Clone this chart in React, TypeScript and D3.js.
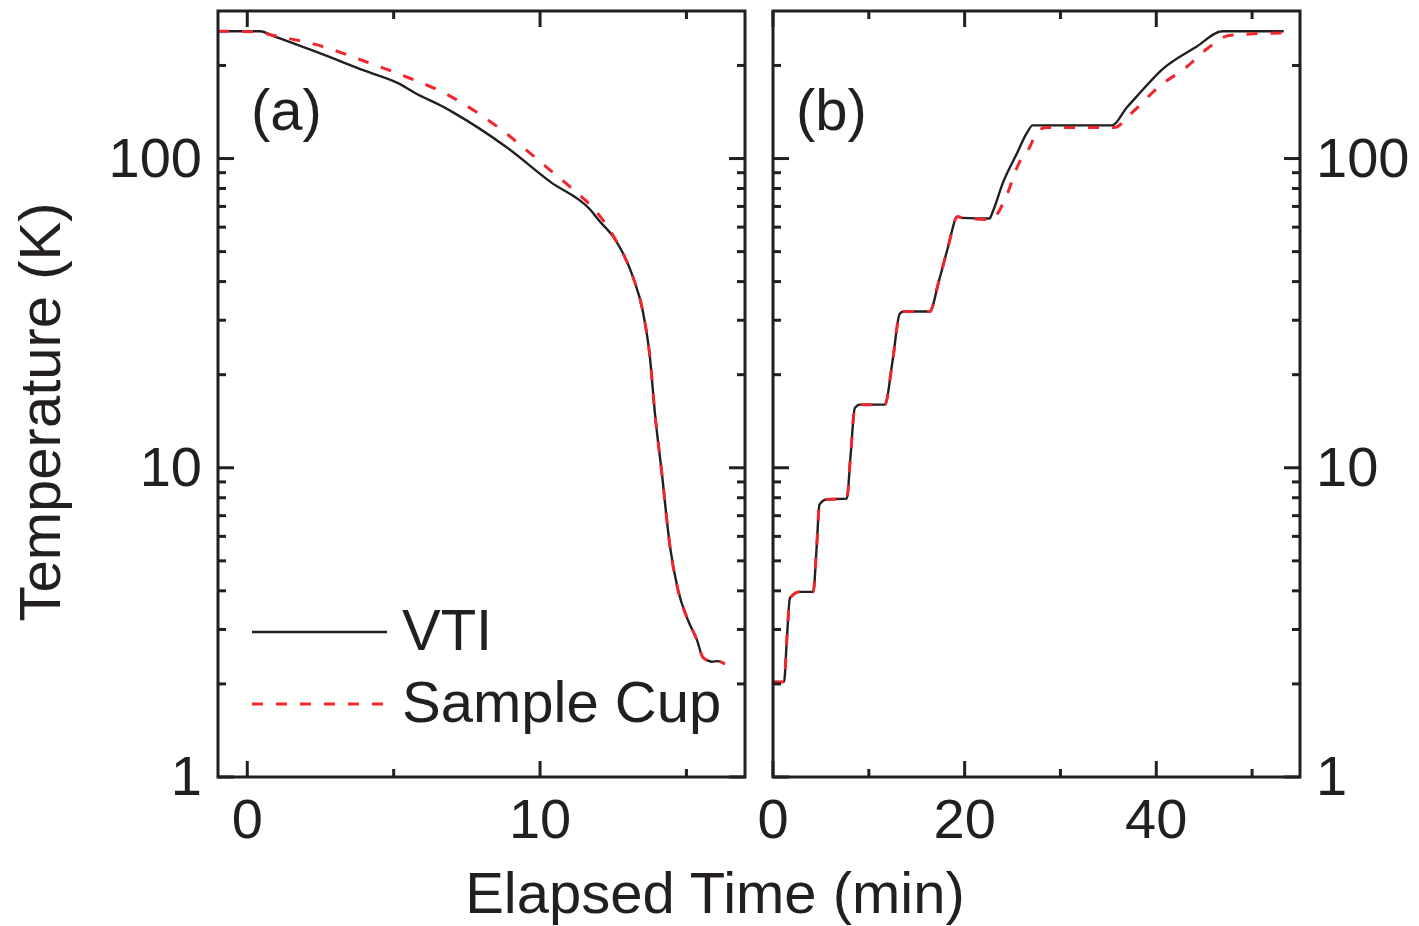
import React from 'react';
import * as d3 from 'd3';

// ---------- Data ----------
// Panel (a): cool-down
const timeA_VTI = [-1, 0.44, 0.9, 2.32, 4.03, 5.22, 5.73, 6.69, 7.03, 8.87, 10.34, 11.71, 12.05, 12.49, 12.85, 13.17, 13.52, 13.75, 13.92, 14.16, 14.44, 14.71, 15.05, 15.36, 15.56, 15.87, 16.07, 16.31];
const tempA_VTI = [258, 258, 249, 222, 192, 174, 163, 147, 141, 108.5, 84.2, 68.4, 62.5, 56, 49, 41.5, 31.7, 22.9, 15.1, 9.6, 5.55, 4.03, 3.22, 2.77, 2.44, 2.36, 2.37, 2.32];

const timeA_Cup = [-1, 0.3, 0.9, 2.32, 4.03, 5.22, 6.83, 8.53, 10.24, 11.13, 11.95, 12.49, 12.85, 13.17, 13.52, 13.75, 13.92, 14.16, 14.44, 14.71, 15.05, 15.36, 15.56, 15.87, 16.07, 16.31];
const tempA_Cup = [258, 257, 250, 234, 206, 187, 161, 127, 93.5, 79.4, 66.9, 56.5, 49, 41.5, 31.7, 22.9, 15.1, 9.6, 5.55, 4.03, 3.22, 2.77, 2.44, 2.36, 2.37, 2.32];

// Panel (b): step-wise warm-up
const timeB_VTI = [0, 1.15, 1.45, 1.77, 2.8, 4.2, 4.55, 4.85, 5.6, 7.7, 8.1, 8.54, 9.06, 11.67, 12.5, 13.23, 13.6, 16.35, 17.3, 18.2, 19.27, 19.7, 22.6, 22.9, 24.0, 25.4, 26.5, 27.1, 27.6, 35.4, 36.9, 37.9, 40.6, 44.2, 46.9, 53.3];
const tempB_VTI = [2.03, 2.03, 2.8, 3.79, 3.97, 3.97, 5.5, 7.6, 7.9, 7.95, 11, 15.6, 16.0, 16.0, 22.4, 31.5, 32, 32, 40, 50.8, 64.9, 64.3, 64, 66.9, 83.6, 103, 121, 128, 128, 128, 146, 158, 194, 230, 258, 258];

const timeB_Cup = [0, 1.15, 1.45, 1.77, 2.8, 4.2, 4.55, 4.85, 5.6, 7.7, 8.1, 8.54, 9.06, 11.67, 12.5, 13.23, 13.6, 16.35, 17.3, 18.2, 19.27, 19.7, 22.6, 23.2, 24.2, 25.7, 26.8, 27.5, 28.5, 35.6, 37.5, 40.3, 43.1, 45.5, 47.6, 53.3];
const tempB_Cup = [2.03, 2.03, 2.8, 3.79, 3.97, 3.97, 5.5, 7.6, 7.9, 7.95, 11, 15.6, 16.0, 16.0, 22.4, 31.5, 32, 32, 40, 50.8, 64.9, 64.3, 63.5, 65, 73.7, 97, 109, 121, 126, 126, 141, 171, 197, 229, 250, 255];

// Axes
const yDomain = [1, 300];
const yMajorTicks = [1, 10, 100];
const yMinorTicks = [2, 3, 4, 5, 6, 7, 8, 9, 20, 30, 40, 50, 60, 70, 80, 90, 200];
const yTickLabels = ['1', '10', '100'];

const xDomainA = [-1, 17];
const xTicksA = [0, 5, 10, 15];
const xMajorA = [0, 10];

const xDomainB = [0, 55];
const xTicksB = [0, 10, 20, 30, 40, 50];
const xMajorB = [0, 20, 40];

const seriesNames = ['VTI', 'Sample Cup'];
const panelLabels = ['(a)', '(b)'];
const xTitle = 'Elapsed Time (min)';
const yTitle = 'Temperature (K)';

// ---------- Styles ----------
const FONT = '"Liberation Sans", Arial, Helvetica, sans-serif';
const RED = '#f0262c';
const BLACK = '#231f20';
const TOP = 11, BOTTOM = 777;
const MAJ = 16, MIN = 8;
const BLACK_W = 2.4;
const RED_W = 3;
const DASH = '11,13';

function Panel({ xScale, yScale, ticks, majors, timesV, tempsV, timesC, tempsC, id, curve }) {
  const [x0, x1] = xScale.range();
  const line = d3.line().x(d => xScale(d[0])).y(d => yScale(d[1])).curve(curve);
  const dV = line(timesV.map((t, i) => [t, tempsV[i]]));
  const dC = line(timesC.map((t, i) => [t, tempsC[i]]));
  return (
    <g>
      <defs>
        <clipPath id={id}>
          <rect x={x0} y={TOP} width={x1 - x0} height={BOTTOM - TOP} />
        </clipPath>
      </defs>
      <g clipPath={`url(#${id})`}>
        <path d={dV} fill="none" stroke={BLACK} strokeWidth={BLACK_W} strokeLinejoin="round" />
        <path d={dC} fill="none" stroke={RED} strokeWidth={RED_W} strokeDasharray={DASH} />
      </g>
      {ticks.map(t => {
        const L = majors.includes(t) ? MAJ : MIN;
        const xx = xScale(t);
        return (
          <g key={'xt' + t}>
            <line x1={xx} x2={xx} y1={BOTTOM} y2={BOTTOM - L} stroke={BLACK} strokeWidth={3} />
            <line x1={xx} x2={xx} y1={TOP} y2={TOP + L} stroke={BLACK} strokeWidth={3} />
          </g>
        );
      })}
      {[...yMajorTicks.map(v => [v, MAJ]), ...yMinorTicks.map(v => [v, MIN])].map(([v, L]) => {
        const yy = yScale(v);
        return (
          <g key={'yt' + v}>
            <line x1={x0} x2={x0 + L} y1={yy} y2={yy} stroke={BLACK} strokeWidth={3} />
            <line x1={x1} x2={x1 - L} y1={yy} y2={yy} stroke={BLACK} strokeWidth={3} />
          </g>
        );
      })}
      <rect x={x0} y={TOP} width={x1 - x0} height={BOTTOM - TOP} fill="none" stroke={BLACK} strokeWidth={3} />
      {majors.map(t => (
        <text key={'xl' + t} x={xScale(t)} y={838} textAnchor="middle" fontSize={56} fontFamily={FONT} fill={BLACK}>{String(t)}</text>
      ))}
    </g>
  );
}

export default function App() {
  const y = d3.scaleLog().domain(yDomain).range([BOTTOM, TOP]);
  const xA = d3.scaleLinear().domain(xDomainA).range([218, 745]);
  const xB = d3.scaleLinear().domain(xDomainB).range([773, 1300]);

  return (
    <svg width={1419} height={926} style={{ position: 'absolute', left: 0, top: 0, background: '#fff' }}>
      <rect x={0} y={0} width={1419} height={926} fill="#fff" />
      <Panel id="clipA" xScale={xA} yScale={y} ticks={xTicksA} majors={xMajorA} curve={d3.curveMonotoneX}
        timesV={timeA_VTI} tempsV={tempA_VTI} timesC={timeA_Cup} tempsC={tempA_Cup} />
      <Panel id="clipB" xScale={xB} yScale={y} ticks={xTicksB} majors={xMajorB} curve={d3.curveMonotoneX}
        timesV={timeB_VTI} tempsV={tempB_VTI} timesC={timeB_Cup} tempsC={tempB_Cup} />

      {yMajorTicks.map((v, i) => (
        <text key={'yla' + v} x={202} y={y(v) + 18} textAnchor="end" fontSize={56} fontFamily={FONT} fill={BLACK}>{yTickLabels[i]}</text>
      ))}
      {yMajorTicks.map((v, i) => (
        <text key={'ylb' + v} x={1316} y={y(v) + 18} textAnchor="start" fontSize={56} fontFamily={FONT} fill={BLACK}>{yTickLabels[i]}</text>
      ))}

      <text x={251} y={130} fontSize={58} fontFamily={FONT} fill={BLACK}>{panelLabels[0]}</text>
      <text x={796} y={130} fontSize={58} fontFamily={FONT} fill={BLACK}>{panelLabels[1]}</text>

      <line x1={252} x2={387} y1={632} y2={632} stroke={BLACK} strokeWidth={BLACK_W} />
      <text x={402} y={650} fontSize={58} fontFamily={FONT} fill={BLACK}>{seriesNames[0]}</text>
      <line x1={252} x2={387} y1={704} y2={704} stroke={RED} strokeWidth={RED_W} strokeDasharray={DASH} />
      <text x={402} y={722} fontSize={58} fontFamily={FONT} fill={BLACK}>{seriesNames[1]}</text>

      <text x={715} y={913} textAnchor="middle" fontSize={58} fontFamily={FONT} fill={BLACK}>{xTitle}</text>
      <text transform="translate(60,412) rotate(-90)" textAnchor="middle" fontSize={58} fontFamily={FONT} fill={BLACK}>{yTitle}</text>
    </svg>
  );
}
